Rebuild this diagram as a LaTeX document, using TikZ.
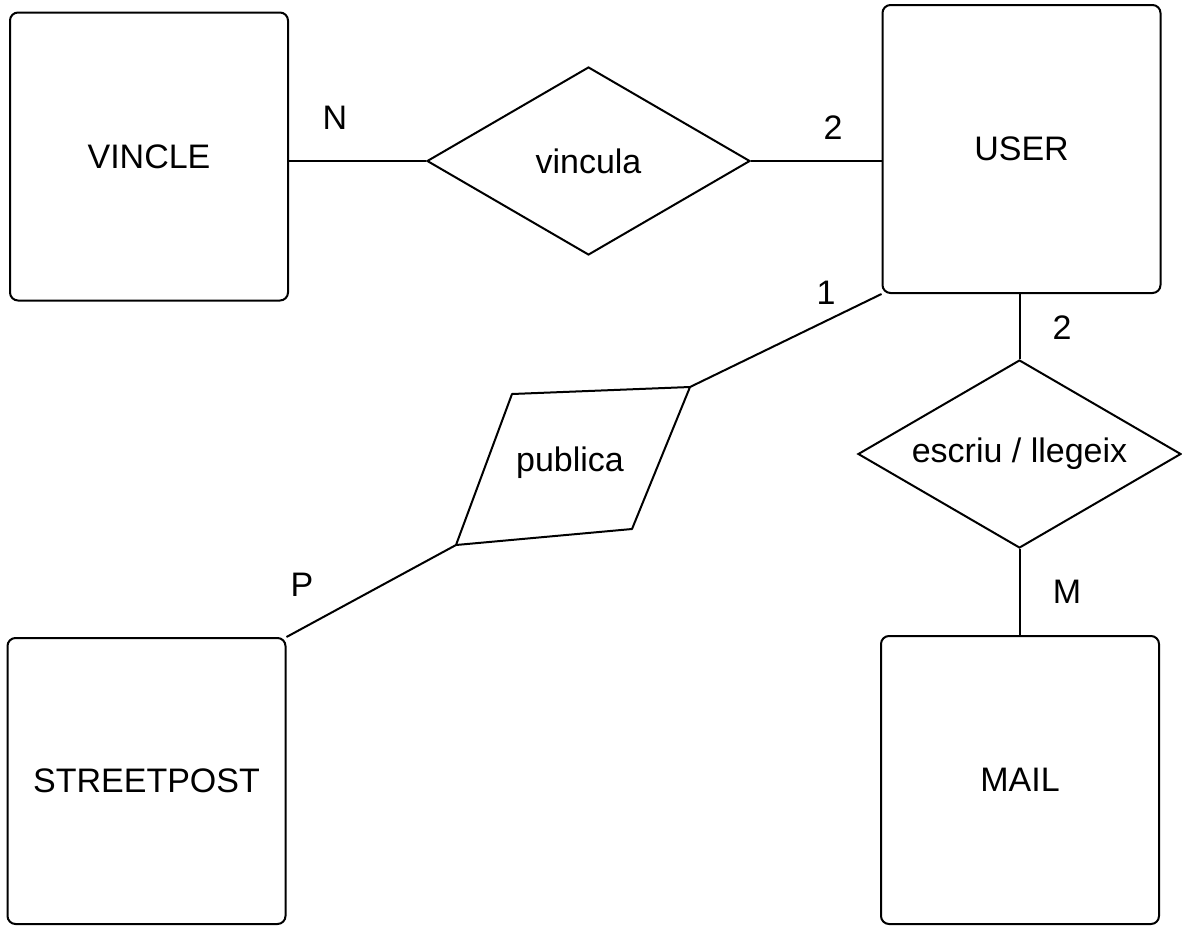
\documentclass[tikz,border=0pt]{standalone}
\usepackage{fontspec}
\setmainfont{Liberation Sans}
\usetikzlibrary{shapes.geometric,positioning}
\tikzset{
	every node/.style={font=\fontsize{17}{20}\selectfont},
	entity/.style={draw,rectangle,rounded corners=4pt,line width=1pt,minimum width=139pt,minimum height=144pt,align=center},
	relation/.style={draw,diamond,aspect=1.72,line width=1pt,minimum width=161.5pt,minimum height=94pt,inner sep=0pt},
	card/.style={inner sep=0pt},
	link/.style={line width=1pt}
}
\begin{document}
\begin{tikzpicture}[x=0.5pt,y=-0.5pt]
            \useasboundingbox (0,0) rectangle (1182,926);
            \node[entity] (vincle) at (149,156.5) {VINCLE};
            \node[entity] (user) at (1021.5,149) {USER};
            \node[entity,minimum height=143pt] (streetpost) at (146.5,781) {STREETPOST};
            \node[entity] (mail) at (1020,780) {MAIL};
            \node[relation] (vincula) at (588.5,161) {vincula};
            \node[relation] (escriu) at (1019.5,454) {escriu / llegeix};
            \node (publica) at (570,463) {publica};
            \coordinate (pub-a) at (512,394);
            \coordinate (pub-b) at (690,387);
            \coordinate (pub-c) at (632,529);
            \coordinate (pub-d) at (456,545);
            \draw[link,line join=round] (pub-a) -- (pub-b) -- (pub-c) -- (pub-d) -- cycle;
            \draw[link] (vincle.east |- vincula.west) -- (vincula.west);
            \draw[link] (vincula.east) -- (vincula.east -| user.west);
            \draw[link] (user.south west) -- (pub-b);
            \draw[link] (pub-d) -- (streetpost.north east);
            \draw[link] (user.south -| escriu.north) -- (escriu.north);
            \draw[link] (escriu.south) -- (mail.north -| escriu.south);
            \node[card] (n-vincle) at (335,118) {N};
            \node[card] (n-user) at (833,128) {2};
            \node[card] (one-user) at (826,293) {1};
            \node[card] (two-user) at (1062,328) {2};
            \node[card] (m-mail) at (1067,592) {M};
            \node[card] (p-street) at (302,585) {P};
        \end{tikzpicture}
\end{document}
